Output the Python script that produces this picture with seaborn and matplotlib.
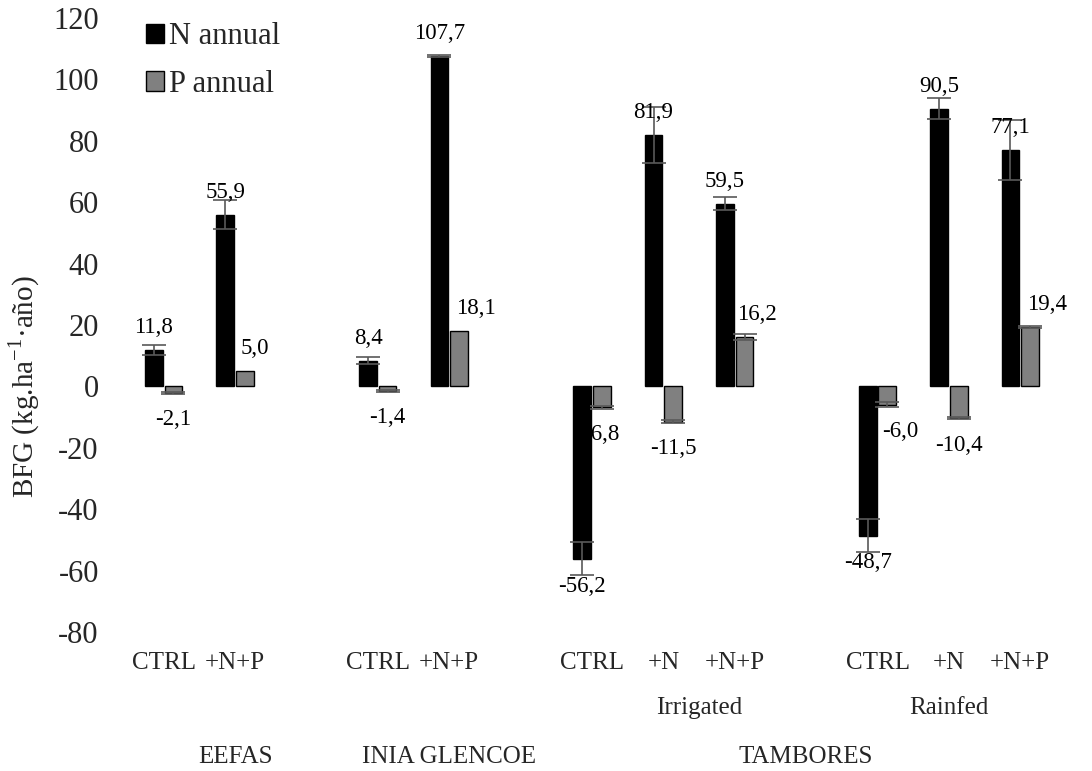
import numpy as np
import pandas as pd
import matplotlib
matplotlib.use("Agg")
import matplotlib.pyplot as plt
import seaborn as sns

# ---------------- data ----------------
sites = ["EEFAS", "EEFAS", "INIA GLENCOE", "INIA GLENCOE",
         "TAMBORES", "TAMBORES", "TAMBORES", "TAMBORES", "TAMBORES", "TAMBORES"]
regimes = ["", "", "", "", "Irrigated", "Irrigated", "Irrigated", "Rainfed", "Rainfed", "Rainfed"]
treatments = ["CTRL", "+N+P", "CTRL", "+N+P", "CTRL", "+N", "+N+P", "CTRL", "+N", "+N+P"]
n_annual = [11.8, 55.9, 8.4, 107.7, -56.2, 81.9, 59.5, -48.7, 90.5, 77.1]
n_err = [1.6, 4.8, 1.1, 0.3, 5.4, 9.1, 2.2, 5.4, 3.4, 9.8]
p_annual = [-2.1, 5.0, -1.4, 18.1, -6.8, -11.5, 16.2, -6.0, -10.4, 19.4]
p_err = [0.4, 0.0, 0.3, 0.0, 0.5, 0.5, 1.0, 0.8, 0.3, 0.4]
series = ["N annual", "P annual"]
y_ticks = [-80, -60, -40, -20, 0, 20, 40, 60, 80, 100, 120]

# label nudges (points) for P labels, as placed in the original
p_label_dx = [0, 7, 0, 12, 0, 0, 9, 9, 0, 12]

# ---------------- build table ----------------
keys = [f"{s}|{r}|{t}" for s, r, t in zip(sites, regimes, treatments)]
order = [keys[0], keys[1], "_gap1", keys[2], keys[3], "_gap2",
         keys[4], keys[5], keys[6], "_gap3", keys[7], keys[8], keys[9]]

rows = []
for k, nv, pv in zip(keys, n_annual, p_annual):
    rows.append({"cat": k, "series": series[0], "value": nv})
    rows.append({"cat": k, "series": series[1], "value": pv})
df = pd.DataFrame(rows)

sns.set_theme(style="white")
plt.rcParams["font.family"] = ["Liberation Serif", "DejaVu Serif"]
plt.rcParams["mathtext.fontset"] = "custom"
plt.rcParams["mathtext.rm"] = "Liberation Serif"

fig = plt.figure(figsize=(10.92, 7.71), dpi=100)
ax = fig.add_axes([0.1172, 0.1803, 0.8498, 0.7964])

sns.barplot(data=df, x="cat", y="value", hue="series", order=order,
            hue_order=series, palette=["#000000", "#808080"],
            width=0.55, gap=0.1, errorbar=None, edgecolor="black",
            linewidth=1.0, saturation=1, ax=ax)

err_lookup = {series[0]: dict(zip(keys, n_err)), series[1]: dict(zip(keys, p_err))}
val_lookup = {series[0]: dict(zip(keys, n_annual)), series[1]: dict(zip(keys, p_annual))}
dx_lookup = {series[0]: dict(zip(keys, [0] * len(keys))), series[1]: dict(zip(keys, p_label_dx))}

for cont, s in zip(ax.containers, series):
    for patch in cont.patches:
        xc = patch.get_x() + patch.get_width() / 2
        idx = int(round(xc))
        k = order[idx]
        v = val_lookup[s][k]
        e = err_lookup[s][k]
        if e > 0:
            ax.errorbar(xc, v, yerr=e, fmt="none", ecolor="#595959",
                        elinewidth=1.2, capsize=8.5, capthick=1.2, zorder=4)
        lbl = f"{v:.1f}".replace(".", ",")
        dy = 16 if v >= 0 else -19.5
        ax.annotate(lbl, (xc, v), xytext=(dx_lookup[s][k], dy),
                    textcoords="offset points", ha="center", va="center",
                    fontsize=16.5, color="black", zorder=5)

ax.set_xlim(-0.5, len(order) - 0.5)
ax.set_ylim(-80, 120)
ax.set_yticks(y_ticks)
ax.set_yticklabels([str(t) for t in y_ticks], fontsize=22)
ax.tick_params(axis="y", length=0, pad=21)
ax.set_xticks([])
ax.set_xlabel("")
for sp in ax.spines.values():
    sp.set_visible(False)

ax.set_ylabel("BFG (kg.ha$^{\\mathregular{-1}}$·año)", fontsize=21)
ax.yaxis.set_label_coords(-0.093, 0.40)

# multi-level category labels
xt = ax.get_xaxis_transform()
for k, t in zip(keys, treatments):
    ax.text(order.index(k), -0.0505, t, transform=xt, ha="center", va="center", fontsize=18)

regime_spans = {"Irrigated": (6, 9), "Rainfed": (10, 12)}
for name, (a, b) in regime_spans.items():
    ax.text((a + b) / 2, -0.1238, name, transform=xt, ha="center", va="center", fontsize=18)
site_spans = {"EEFAS": (0, 2), "INIA GLENCOE": (3, 5), "TAMBORES": (6, 12)}
for name, (a, b) in site_spans.items():
    ax.text((a + b) / 2, -0.2036, name, transform=xt, ha="center", va="center", fontsize=18)

leg = ax.legend(loc="upper left", bbox_to_anchor=(0.019, 0.993), frameon=False,
                fontsize=22, handlelength=0.6, handleheight=0.6,
                handletextpad=0.15, labelspacing=0.6, borderpad=0, borderaxespad=0)

fig.savefig("out.png", dpi=100)
